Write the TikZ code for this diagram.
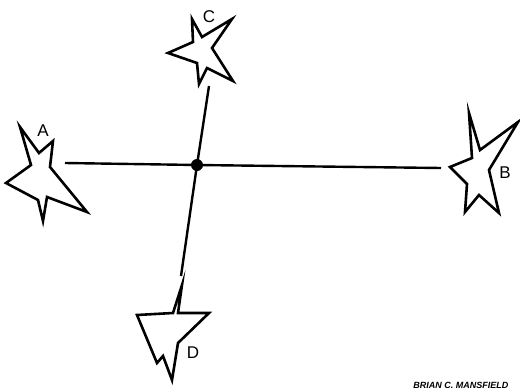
\documentclass[tikz,border=0pt]{standalone}
\usepackage{fontspec}
\setmainfont{Liberation Sans}
\tikzset{
  starline/.style={line width=2.6pt, line join=miter, miter limit=20},
  axisline/.style={line width=2.4pt},
  letter/.style={font=\fontsize{17}{17}\selectfont, inner sep=0pt}
}
\begin{document}
\begin{tikzpicture}[x=1pt, y=-1pt]
\useasboundingbox (0,0) rectangle (520,391);
% stars
\draw[starline] (20,127) -- (39,153) -- (53,141) -- (50,167) -- (87,212) -- (47,197) -- (43,221) -- (38,200) -- (6,183) -- (31,165) -- cycle;
\draw[starline] (450,167) -- (472,158) -- (469,113) -- (480,150) -- (518,122) -- (489,170) -- (499,213) -- (479,195) -- (465,212) -- (467,184) -- cycle;
\draw[starline] (192,19) -- (202,37) -- (232,19) -- (212,48) -- (233,81) -- (207,68) -- (199,84) -- (197,63) -- (168,53) -- (193,42) -- cycle;
\draw[starline] (182,285) -- (173,313) -- (137,315) -- (157,363) -- (163,356) -- (172,380) -- (178,343) -- (209,313) -- (178,313) -- cycle;
% labels
\node[letter] (la) at (43,131) {A};
\node[letter] (lb) at (505,173) {B};
\node[letter] (lc) at (209,17) {C};
\node[letter] (ld) at (193,353) {D};
% cross
\node[circle, fill, inner sep=0pt, minimum size=12pt] (hub) at (197,165) {};
\coordinate (aend) at (65,163);
\coordinate (bend) at (441,168);
\coordinate (cend) at (209,86);
\coordinate (dend) at (181,276);
\draw[axisline] (aend) -- (hub.center) -- (bend);
\draw[axisline] (cend) -- (hub.center) -- (dend);
\node[font=\fontsize{9}{9}\selectfont\bfseries\itshape, anchor=base east] (sig) at (512,388) {BRIAN C. MANSFIELD};
\end{tikzpicture}
\end{document}
